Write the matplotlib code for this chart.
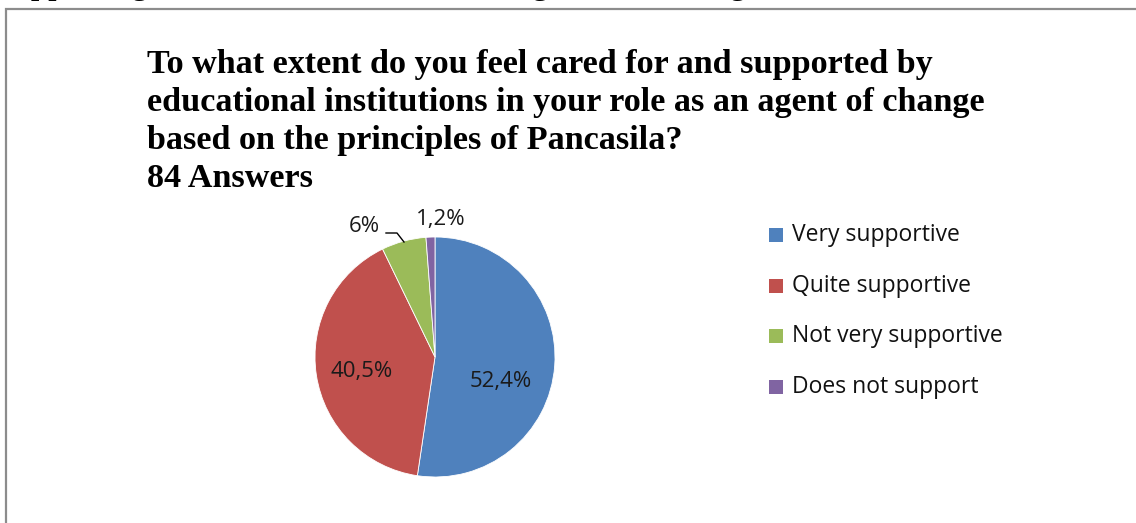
import matplotlib
matplotlib.use("Agg")
import matplotlib.pyplot as plt
from matplotlib.patches import Rectangle
from matplotlib.lines import Line2D

categories = ["Very supportive", "Quite supportive", "Not very supportive", "Does not support"]
values = [52.4, 40.5, 6.0, 1.2]
value_labels = ["52,4%", "40,5%", "6%", "1,2%"]
colors = ["#4F81BD", "#C0504D", "#9BBB59", "#8064A2"]
title_lines = [
    "To what extent do you feel cared for and supported by",
    "educational institutions in your role as an agent of change",
    "based on the principles of Pancasila?",
    "84 Answers",
]
top_text = "supporting students' efforts to encourage social change based on Pancasila."

W, H = 1136, 523
fig = plt.figure(figsize=(W / 100, H / 100), dpi=100)
fig.patch.set_facecolor("white")

def fx(px):
    return px / W

def fy(py):
    return 1 - py / H

# clipped document text at top (only descenders visible, as in the reference)
fig.text(fx(0), fy(-7), top_text, family="Liberation Serif", fontsize=25,
         va="baseline", ha="left", color="black")

# chart frame (extends past right/bottom edge)
fig.patches.append(Rectangle((fx(6), fy(600)), fx(1200) - fx(6), fy(9) - fy(600),
                             transform=fig.transFigure, fill=False,
                             edgecolor="#8c8c8c", linewidth=1.6))

# title
for i, line in enumerate(title_lines):
    fig.text(fx(147), fy(73 + i * 38), line, family="Liberation Serif",
             fontweight="bold", fontsize=24.6, va="baseline", ha="left")

# pie
cx, cy, r = 435, 357, 120
ax = fig.add_axes([fx(cx - r), fy(cy + r), fx(2 * r), (2 * r) / H])
wedges, _ = ax.pie(values, colors=colors, startangle=90, counterclock=False,
                   radius=1, wedgeprops=dict(edgecolor="white", linewidth=0.6))
ax.set_xlim(-1, 1)
ax.set_ylim(-1, 1)
ax.set_aspect("equal")
ax.axis("off")

lab_font = dict(family="Open Sans", fontsize=16, color="#1a1a1a")
leg_font = dict(family="Open Sans", fontsize=16.5, color="#111111")

def ax_pt(px, py):
    return ((px - cx) / r, (cy - py) / r)

for lbl, (px, py) in zip(value_labels, [(501, 381), (362, 372), (364, 226), (441, 220)]):
    x, y = ax_pt(px, py)
    ax.text(x, y, lbl, ha="center", va="center", clip_on=False, **lab_font)

# leader line for 6%
p = [ax_pt(386, 233), ax_pt(397, 233), ax_pt(404, 242)]
ax.add_line(Line2D([q[0] for q in p], [q[1] for q in p], color="black",
                   linewidth=1.0, clip_on=False))

# legend
for i, (cat, col) in enumerate(zip(categories, colors)):
    yy = 235 + i * 50.7
    fig.patches.append(Rectangle((fx(769), fy(yy + 7)), fx(14), 14 / H,
                                 transform=fig.transFigure, facecolor=col,
                                 edgecolor="none"))
    fig.text(fx(792), fy(yy), cat, va="center", ha="left", **leg_font)

fig.savefig("out.png", dpi=100)
